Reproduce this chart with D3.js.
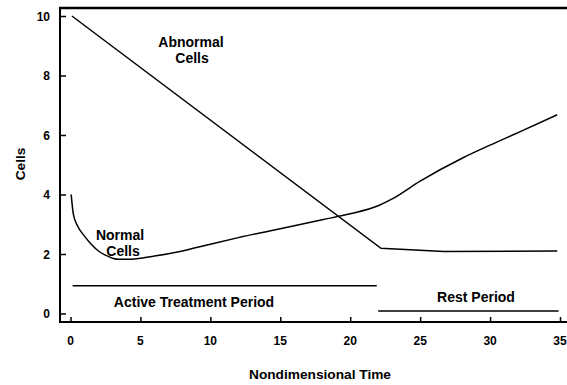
<!DOCTYPE html>
<html>
<head>
<meta charset="utf-8">
<script src="https://cdn.jsdelivr.net/npm/d3@7/dist/d3.min.js"></script>
<style>
  html, body { margin: 0; padding: 0; background: #fff; }
  svg { display: block; }
  text { font-family: "Liberation Sans", Arial, Helvetica, sans-serif; font-weight: bold; fill: #000; }
</style>
</head>
<body>
<svg id="chart" width="567" height="385"></svg>
<script>
// Cell populations over nondimensional time
const abnormalTime  = [0.1, 22.2, 26.7, 34.8];
const abnormalCells = [10.0, 2.19, 2.08, 2.10];

const normalTime  = [0.05, 0.2, 0.5, 1.0, 1.5, 2.0, 2.5, 3.0, 3.5, 4.0, 5.0, 6.0, 8.0, 10.0, 12.0, 15.0, 18.0, 20.0, 22.0, 23.0, 25.0, 28.0, 30.0, 32.0, 34.8];
const normalCells = [4.0, 3.35, 2.95, 2.6, 2.32, 2.1, 1.96, 1.86, 1.82, 1.82, 1.86, 1.93, 2.1, 2.33, 2.55, 2.85, 3.15, 3.35, 3.62, 3.85, 4.45, 5.22, 5.66, 6.08, 6.68];

// Treatment schedule bars: [start, end, level]
const activePeriod = [0.15, 21.9, 0.93];
const restPeriod   = [22.0, 34.9, 0.08];

const xTicks = [0, 5, 10, 15, 20, 25, 30, 35];
const yTicks = [0, 2, 4, 6, 8, 10];

const svg = d3.select("#chart");

const x = d3.scaleLinear().domain([0, 35]).range([70.5, 560]);
const y = d3.scaleLinear().domain([0, 10]).range([313.5, 16]);

const frameLeft = 60, frameBottom = 322, frameTop = 8, frameRight = 567;

// Frame: left axis, bottom axis, top border
svg.append("line").attr("x1", frameLeft).attr("x2", frameLeft).attr("y1", frameTop).attr("y2", frameBottom)
  .attr("stroke", "#000").attr("stroke-width", 2);
svg.append("line").attr("x1", frameLeft - 1).attr("x2", frameRight).attr("y1", frameBottom).attr("y2", frameBottom)
  .attr("stroke", "#000").attr("stroke-width", 2);
svg.append("line").attr("x1", frameLeft - 1).attr("x2", frameRight).attr("y1", frameTop).attr("y2", frameTop)
  .attr("stroke", "#000").attr("stroke-width", 2.5);

// Inward ticks on the x axis
const xAxis = d3.axisTop(x).tickValues(xTicks).tickSize(5).tickFormat("");
const gx = svg.append("g").attr("transform", `translate(0,${frameBottom})`).call(xAxis);
gx.select(".domain").remove();
gx.selectAll("line").attr("stroke", "#000").attr("stroke-width", 1.5);
svg.selectAll(".xlab").data(xTicks).enter().append("text")
  .attr("x", d => x(d)).attr("y", 345).attr("text-anchor", "middle")
  .attr("font-size", 12).text(d => d);

// Inward ticks on the y axis
const yAxis = d3.axisRight(y).tickValues(yTicks).tickSize(6).tickFormat("");
const gy = svg.append("g").attr("transform", `translate(${frameLeft},0)`).call(yAxis);
gy.select(".domain").remove();
gy.selectAll("line").attr("stroke", "#000").attr("stroke-width", 1.5);
svg.selectAll(".ylab").data(yTicks).enter().append("text")
  .attr("x", 50).attr("y", d => y(d) + 4.5).attr("text-anchor", "end")
  .attr("font-size", 12).text(d => d);

// Axis titles
svg.append("text").attr("x", 320).attr("y", 379).attr("text-anchor", "middle")
  .attr("font-size", 13.7).text("Nondimensional Time");
svg.append("text").attr("transform", "translate(25,164) rotate(-90)")
  .attr("text-anchor", "middle").attr("font-size", 13.7).text("Cells");

// Cell curves
const abnormalLine = d3.line().x(d => x(d[0])).y(d => y(d[1]));
svg.append("path")
  .datum(d3.zip(abnormalTime, abnormalCells))
  .attr("d", abnormalLine).attr("fill", "none").attr("stroke", "#000").attr("stroke-width", 1.5);

const normalLine = d3.line().x(d => x(d[0])).y(d => y(d[1])).curve(d3.curveMonotoneX);
svg.append("path")
  .datum(d3.zip(normalTime, normalCells))
  .attr("d", normalLine).attr("fill", "none").attr("stroke", "#000").attr("stroke-width", 1.5);

// Treatment schedule
[activePeriod, restPeriod].forEach(p => {
  svg.append("line").attr("x1", x(p[0])).attr("x2", x(p[1]))
    .attr("y1", y(p[2])).attr("y2", y(p[2]))
    .attr("stroke", "#000").attr("stroke-width", 1.5);
});

// Annotations
const label = (tx, ty, s) => svg.append("text").attr("x", tx).attr("y", ty)
  .attr("text-anchor", "middle").attr("font-size", 14).text(s);
label(191, 47, "Abnormal");
label(192, 63, "Cells");
label(120, 240, "Normal");
label(123, 256, "Cells");
label(194, 307, "Active Treatment Period");
label(476, 302, "Rest Period");
</script>
</body>
</html>
